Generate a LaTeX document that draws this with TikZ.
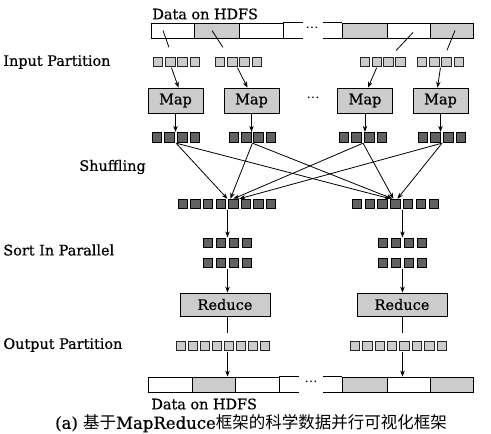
\documentclass[tikz,border=0pt]{standalone}
\usepackage{fontspec}
\setmainfont{DejaVu Serif}
\newfontfamily\lblf{DejaVu Serif}[FakeBold=0.6]
\newfontfamily\cjk{Noto Sans CJK SC}
\usepackage{tikz}
\usetikzlibrary{positioning,arrows.meta,fit,calc}
\definecolor{shade}{gray}{0.80}

\begin{document}
\begin{tikzpicture}[x=1pt, y=-1pt, line width=0.8pt,
  lbl/.style={font=\lblf\fontsize{14.4}{16}\selectfont, anchor=west, inner sep=0pt},
  cell/.style={draw, minimum height=15pt, inner sep=0pt},
  lsq/.style={draw=black!85, fill=shade, line width=1pt, minimum size=9.5pt, inner sep=0pt},
  dsq/.style={draw=black, fill=black!62, line width=1pt, minimum size=9.5pt, inner sep=0pt},
  task/.style={draw, fill=shade, inner sep=0pt, font=\lblf\fontsize{14.5}{16}\selectfont},
  >={Stealth[length=6pt,width=4.5pt]}
]
\useasboundingbox (0,0) rectangle (491,434);
% ---- side labels ----
\node[lbl] (lin)   at (3,62)   {Input Partition};
\node[lbl] (lsh)   at (79,167) {Shuffling};
\node[lbl] (lsort) at (3,250)  {Sort In Parallel};
\node[lbl] (lout)  at (3,345)  {Output Partition};
% ---- HDFS bars (top = input, bottom = output) ----
\node[lbl] (hdfsin)  at (152,14)  {Data on HDFS};
\node[lbl] (hdfsout) at (151,404) {Data on HDFS};
\foreach \c/\a/\b/\f in {t1/151/194/white, t2/194/239/shade, t3/239/283/white,
                         t5/342/387/shade, t6/387/430/white, t7/430/473/shade}
  \node[cell, fill=\f, minimum width={\b-\a}] (\c) at ({(\a+\b)/2},30.5) {};
\foreach \c/\a/\b/\f in {b1/148/192/white, b2/192/235/shade, b3/235/279/white,
                         b5/342/387/shade, b6/387/430/white, b7/430/473/shade}
  \node[cell, fill=\f, minimum width={\b-\a}] (\c) at ({(\a+\b)/2},384.5) {};
% open ends next to the dots
\foreach \c in {t3,b3}{
  \draw (\c.north east) -- ++(20,0);
  \draw (\c.south east) -- ++(20,0);}
\foreach \c in {t5,b5}{
  \draw (\c.north west) -- ++(-19,0);
  \draw (\c.south west) -- ++(-19,0);}
\node[font=\fontsize{13}{15}\selectfont] (dtop) at (312,28)  {\dots};
\node[font=\fontsize{13}{15}\selectfont] (dbot) at (311,382) {\dots};
% ---- rows of small blocks: name/first x/y/count/pitch/style ----
\foreach \g/\x/\y/\n/\p/\s in {ip1/158/62/4/12.3/lsq, ip2/220/62/4/12.3/lsq,
    ip3/365/62/4/11.8/lsq, ip4/422/62/4/12.3/lsq,
    mo1/157/137.5/4/12.7/dsq, mo2/234/137.5/4/12.3/dsq,
    mo3/344/137.5/4/12.7/dsq, mo4/423/137.5/4/12.7/dsq,
    shl/183/204/8/12.6/dsq, shr/357/204/7/12.8/dsq,
    sl1/208/243/4/13/dsq, sl2/208/263/4/13/dsq,
    sr1/383/243/4/13/dsq, sr2/383/263/4/13/dsq,
    opl/181/346/8/12/lsq, opr/355/346/8/12.4/lsq}{
  \foreach \i in {1,...,\n}
    \node[\s] (\g-\i) at ({\x+(\i-1)*\p},\y) {};
  \node[fit=(\g-1)(\g-\n), inner sep=0pt] (\g) {};
}
% ---- map and reduce tasks ----
\foreach \m/\x in {1/175.5, 2/251.5, 3/365, 4/440.5}
  \node[task, minimum width=55pt, minimum height=25pt] (map\m) at (\x,100.5) {Map};
\node[font=\fontsize{13}{15}\selectfont] (dmap) at (313,98) {\dots};
\node[task, minimum width=90pt, minimum height=23pt] (redl) at (225,304.5) {Reduce};
\node[task, minimum width=90pt, minimum height=23pt] (redr) at (402,304.5) {Reduce};
% ---- splits read from HDFS ----
\draw ([xshift=-9.5pt]t1.center) -- ([xshift=-7.5pt,yshift=9pt]ip1.north);
\draw ([xshift=-4.5pt]t2.center) -- ([xshift=-15.5pt,yshift=9pt]ip2.north);
\draw ([xshift=4.5pt,yshift=-2pt]t6.center) -- ([xshift=13.5pt,yshift=6pt]ip3.north);
\draw ([xshift=3.5pt]t7.center) -- ([xshift=6.5pt,yshift=6pt]ip4.north);
% ---- splits into map ----
\draw[->] ([xshift=-5pt]ip1.south) -- ([xshift=3pt]map1.north);
\draw[->] ([xshift=-1pt]ip2.south) -- ([xshift=-4pt]map2.north);
\draw[->] ([xshift=-6pt]ip3.south) -- ([xshift=3pt]map3.north);
\draw[->] (ip4.south) -- ([xshift=-3pt]map4.north);
\foreach \m in {1,...,4}
  \draw[->] (map\m.south) -- (map\m.south |- mo\m.north);
% ---- shuffling: every map output to both reducers ----
\foreach \k/\dl/\dr in {1/-6/-5, 2/-3/-3, 3/0/-2, 4/6/2}{
  \draw[->] (mo\k.south) -- ([xshift=\dl pt]shl-5.north);
  \draw[->] (mo\k.south) -- ([xshift=\dr pt]shr-4.north);
}
% ---- sort, reduce, write back ----
\draw[->] (shl.south -| sl1) -- (sl1.north);
\draw[->] (shr.south -| sr1) -- (sr1.north);
\draw[->] (sl2.south) -- (sl2.south |- redl.north);
\draw[->] (sr2.south) -- (sr2.south |- redr.north);
\draw[shorten >=7pt] (redl.south -| sl2) -- (opl.north -| sl2);
\draw[shorten >=7pt] (redr.south -| sr2) -- (opr.north -| sr2);
\draw[->] (opl.south -| sl2) -- (b2.north -| sl2);
\draw[->] (opr.south -| sr2) -- (b6.north -| sr2);
% ---- caption ----
\node[font=\lblf\fontsize{16.5}{18}\selectfont, inner sep=0pt] (cap) at (251,423.5)
  {(a) {\cjk 基于}MapReduce{\cjk 框架的科学数据并行可视化框架}};
\end{tikzpicture}
\end{document}
